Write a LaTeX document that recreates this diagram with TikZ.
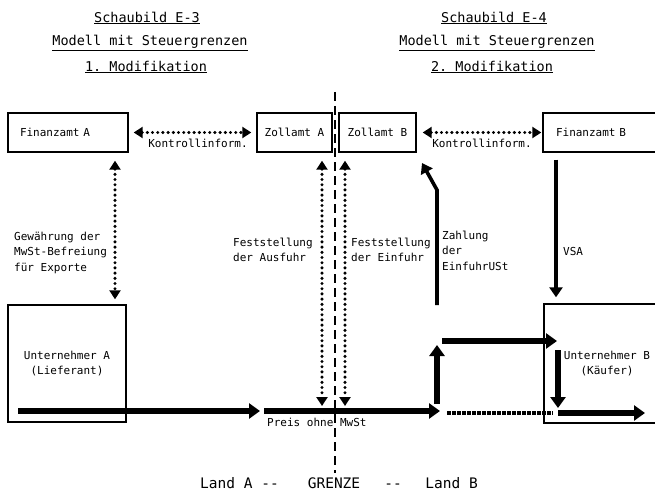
\documentclass[tikz,border=0pt]{standalone}
\usepackage{fontspec}
\setmonofont{DejaVu Sans Mono}
\usetikzlibrary{arrows.meta}
\begin{document}
\begin{tikzpicture}[x=1pt,y=-1pt,
  every node/.style={font=\ttfamily\fontsize{11}{15.5}\selectfont, inner sep=0pt},
  box/.style={draw, line width=1.4pt},
  title/.style={font=\ttfamily\fontsize{13.5}{16}\selectfont},
  bottomtext/.style={font=\ttfamily\fontsize{14.5}{17}\selectfont},
  lbl/.style={anchor=west, align=left},
  dotarrow/.style={line width=3.4pt, dash pattern=on 0pt off 5.2pt, line cap=round,
    {Triangle[width=11pt,length=9pt]}-{Triangle[width=11pt,length=9pt]}},
  flow/.style={line width=5.5pt, -{Triangle[width=15pt,length=11pt]}},
  thinflow/.style={line width=3.6pt, -{Triangle[width=13pt,length=10pt]}},
  border/.style={line width=1.3pt, dash pattern=on 9pt off 5pt}
]
\useasboundingbox (0,0) rectangle (655,492);

% titles
\node[title] (t1) at (147,18) {\underline{Schaubild E-3}};
\node[title] (t2) at (150,43) {\underline{Modell mit Steuergrenzen}};
\node[title] (t3) at (146,67) {\underline{1. Modifikation}};
\node[title] (t4) at (494,18) {\underline{Schaubild E-4}};
\node[title] (t5) at (497,43) {\underline{Modell mit Steuergrenzen}};
\node[title] (t6) at (492,67) {\underline{2. Modifikation}};

% border
\coordinate (g1) at (335,92);
\coordinate (g2) at (335,473);
\draw[border] (g1) -- (g2);

% boxes
\node[box, minimum width=120, minimum height=39, text width=96, inner xsep=12, align=left] (FA) at (68,132.5) {Finanzamt A};
\node[box, minimum width=75, minimum height=39] (ZA) at (294.5,132.5) {Zollamt A};
\node[box, minimum width=77, minimum height=39] (ZB) at (377.5,132.5) {Zollamt B};
\node[box, minimum width=127, minimum height=39, text width=101, inner xsep=13, align=left] (FB) at (606.5,132.5) {Finanzamt B};
\node[box, minimum width=118, minimum height=117, align=center] (UA) at (67,363.5) {Unternehmer A\\(Lieferant)};
\node[box, minimum width=126, minimum height=119, align=center] (UB) at (607,363.5) {Unternehmer B\\(Käufer)};

% coordinates
\coordinate (xk) at (115,0);
\coordinate (xa) at (322,0);
\coordinate (xb) at (345,0);
\coordinate (xv) at (556,0);
\coordinate (f1s) at (18,411);
\coordinate (f1e) at (260,411);
\coordinate (f2s) at (264,411);
\coordinate (f2e) at (440,411);
\coordinate (u1) at (437,404);
\coordinate (u2) at (437,345);
\coordinate (h1) at (442,341);
\coordinate (h2) at (557,341);
\coordinate (d1) at (558,350);
\coordinate (d2) at (558,408);
\coordinate (s1) at (447,413);
\coordinate (s2) at (553,413);
\coordinate (r1) at (558,413);
\coordinate (r2) at (645,413);
\coordinate (z1) at (437,305);
\coordinate (z2) at (437,190);
\coordinate (z3) at (422,163);

% dotted control arrows
\draw[dotarrow, shorten <=5pt, shorten >=5pt] (FA.east) -- (ZA.west);
\draw[dotarrow, shorten <=6pt, shorten >=1pt] (ZB.east) -- (FB.west);
\draw[dotarrow, shorten <=8pt, shorten >=5pt] (FA.south -| xk) -- (UA.north -| xk);
\draw[dotarrow, shorten <=8pt, shorten >=5pt] (ZA.south -| xa) -- (f2s -| xa);
\draw[dotarrow, shorten <=8pt, shorten >=5pt] (ZB.south -| xb) -- (f2s -| xb);

\node[anchor=center] (k1) at (198,143) {Kontrollinform.};
\node[anchor=center] (k2) at (482,143) {Kontrollinform.};

% solid arrows
\draw[thinflow] (z1) -- (z2) -- (z3);
\draw[thinflow, shorten <=7pt, shorten >=6pt] (FB.south -| xv) -- (UB.north -| xv);

% flows
\draw[flow] (f1s) -- (f1e);
\draw[flow] (f2s) -- (f2e);
\draw[flow] (u1) -- (u2);
\draw[flow] (h1) -- (h2);
\draw[flow] (d1) -- (d2);
\draw[line width=4.5pt, dash pattern=on 3.5pt off 1.5pt] (s1) -- (s2);
\draw[flow] (r1) -- (r2);

% labels
\node[lbl] (l1) at (14,252.5) {Gewährung der\\MwSt-Befreiung\\für Exporte};
\node[lbl] (l2) at (233,250) {Feststellung\\der Ausfuhr};
\node[lbl] (l3) at (351,250) {Feststellung\\der Einfuhr};
\node[lbl] (l4) at (442,250.5) {Zahlung\\der\\EinfuhrUSt};
\node[lbl] (l5) at (563,251) {VSA};
\node[lbl] (l6) at (267,422) {Preis ohne MwSt};

% bottom
\node[bottomtext, anchor=base west] (b1) at (200,488) {Land A --};
\node[bottomtext, anchor=base] (b2) at (334,488) {GRENZE};
\node[bottomtext, anchor=base] (b3) at (393,488) {--};
\node[bottomtext, anchor=base east] (b4) at (478,488) {Land B};
\end{tikzpicture}
\end{document}
